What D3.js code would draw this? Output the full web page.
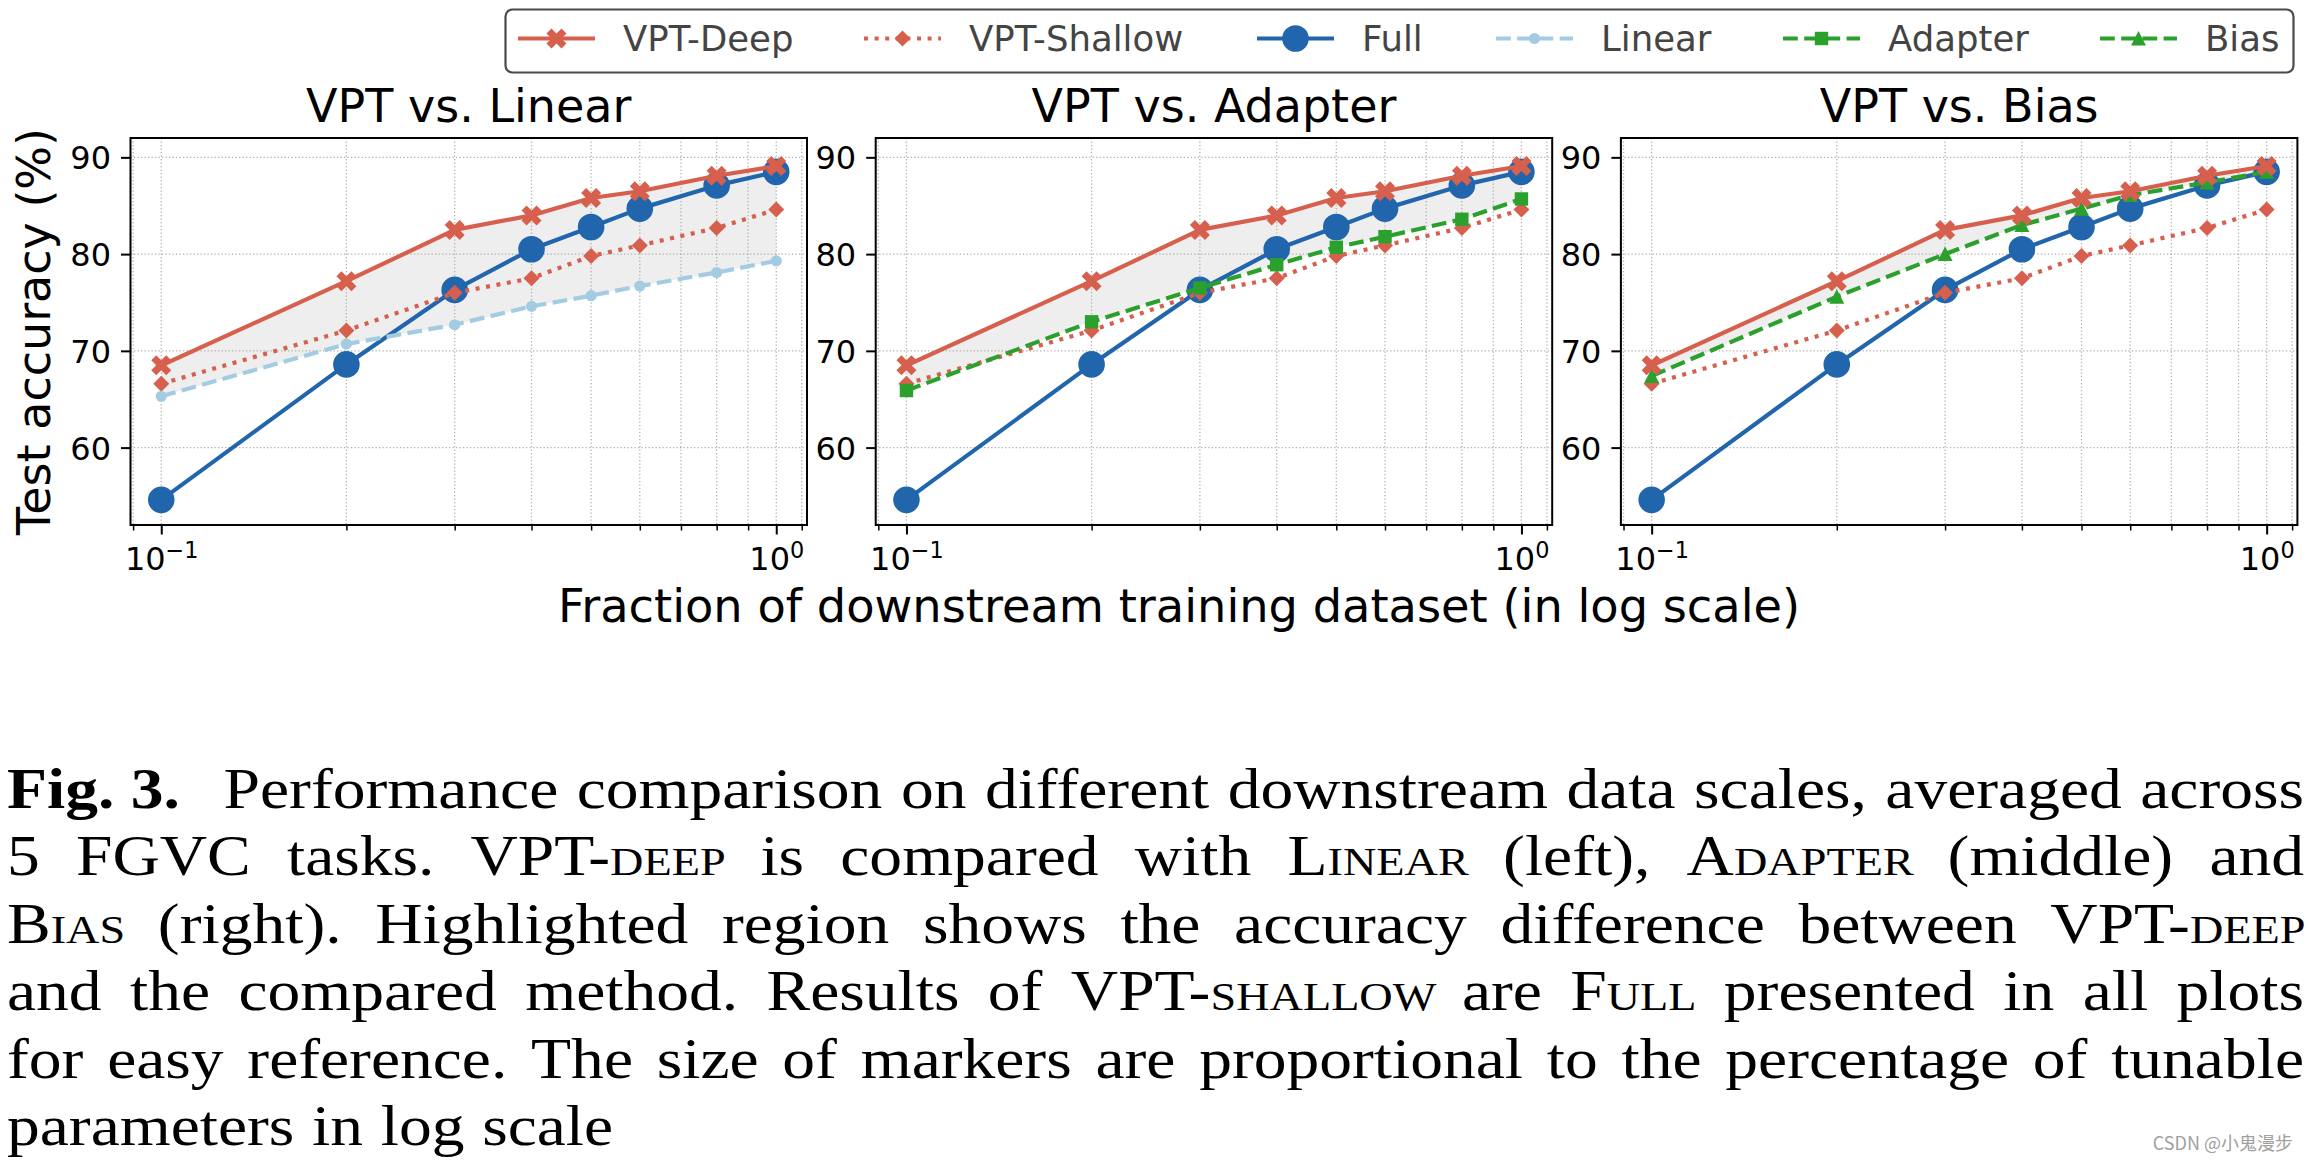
<!DOCTYPE html>
<html><head><meta charset="utf-8">
<script src="https://cdn.jsdelivr.net/npm/d3@7"></script>
<style>body{margin:0;background:#fff} svg{display:block}</style>
</head><body>
<svg id="chart" width="2310" height="1162"></svg>
<script>
// ---------------- data ----------------
const fractions = [0.1, 0.2, 0.3, 0.4, 0.5, 0.6, 0.8, 1.0];
const vptDeep    = [68.5, 77.2, 82.5, 84.0, 85.8, 86.5, 88.1, 89.1];
const vptShallow = [66.6, 72.1, 76.0, 77.5, 79.8, 80.9, 82.7, 84.6];
const full       = [54.6, 68.6, 76.3, 80.5, 82.8, 84.7, 87.1, 88.5];
const linear     = [65.3, 70.7, 72.7, 74.6, 75.7, 76.7, 78.1, 79.3];
const adapter    = [65.9, 73.0, 76.5, 78.9, 80.7, 81.8, 83.6, 85.7];
const bias       = [67.4, 75.6, 80.0, 83.0, 84.7, 86.1, 87.4, 88.5];

const yTicks = [60, 70, 80, 90];
const xMajorTicks = [0.1, 1];
const xMajorLabels = [["10", "\u22121"], ["10", "0"]];
const xMinorTicks = [0.09, 0.2, 0.3, 0.4, 0.5, 0.6, 0.7, 0.8, 0.9, 1.1];
const panelTitles = ["VPT vs. Linear", "VPT vs. Adapter", "VPT vs. Bias"];
const comparedKeys = ["linear", "adapter", "bias"];
const legendKeys = ["deep", "shallow", "full", "linear", "adapter", "bias"];
const legendLabels = ["VPT-Deep", "VPT-Shallow", "Full", "Linear", "Adapter", "Bias"];
const yLabel = "Test accuracy (%)";
const xLabel = "Fraction of downstream training dataset (in log scale)";
const captionLines = [
  "**Fig.\u00a03.** Performance comparison on different downstream data scales, averaged across",
  "5 FGVC tasks. VPT-{deep} is compared with {Linear} (left), {Adapter} (middle) and",
  "{Bias} (right). Highlighted region shows the accuracy difference between VPT-{deep}",
  "and the compared method. Results of VPT-{shallow} are {Full} presented in all plots",
  "for easy reference. The size of markers are proportional to the percentage of tunable",
  "parameters in log scale"
];
const watermark = "CSDN @\u5c0f\u9b3c\u6f2b\u6b65";

const seriesData = {deep: vptDeep, shallow: vptShallow, full: full, linear: linear, adapter: adapter, bias: bias};

// ---------------- styles ----------------
const RED = "#d6604d", BLUE = "#2166ac", LBLUE = "#a3cce2", GREEN = "#2ca02c";
const DASH = "14.8,6.4", DOT = "4,6.6";
const style = {
  deep:    {color: RED,   dash: null, marker: "X"},
  shallow: {color: RED,   dash: DOT,  marker: "D"},
  full:    {color: BLUE,  dash: null, marker: "o", r: 13.3},
  linear:  {color: LBLUE, dash: DASH, marker: "o", r: 5.6},
  adapter: {color: GREEN, dash: DASH, marker: "s"},
  bias:    {color: GREEN, dash: DASH, marker: "^"}
};
function markerPath(s) {
  switch (s.marker) {
    case "X": return {d: d3.symbol(d3.symbolCross, 250)(), rot: 45};
    case "D": return {d: d3.symbol(d3.symbolSquare, 128)(), rot: 45};
    case "o": return {d: d3.symbol(d3.symbolCircle, Math.PI * s.r * s.r)(), rot: 0};
    case "s": return {d: d3.symbol(d3.symbolSquare, 180)(), rot: 0};
    case "^": return {d: "M0,-7.5L7.5,7L-7.5,7Z", rot: 0};
  }
}

const W = 2310, H = 1162;
const svg = d3.select("#chart");
svg.append("rect").attr("width", W).attr("height", H).attr("fill", "#fff");
const SANS = "DejaVu Sans";

const panelW = 676.5, plotTop = 138, plotBottom = 525;
const panelLefts = [0, 1, 2].map(i => 130.5 + i * 745.2);
const LW = 4.2;

function drawSeries(g, key, x, y) {
  const s = style[key], vals = seriesData[key];
  const line = d3.line().x((d, i) => x(fractions[i])).y(d => y(d));
  g.append("path").attr("d", line(vals)).attr("fill", "none")
    .attr("stroke", s.color).attr("stroke-width", LW)
    .attr("stroke-dasharray", s.dash)
    .attr("stroke-linecap", s.dash ? "butt" : "square")
    .attr("stroke-linejoin", "round");
  const m = markerPath(s);
  g.selectAll(null).data(vals).enter().append("path")
    .attr("d", m.d).attr("fill", s.color)
    .attr("transform", (d, i) => `translate(${x(fractions[i])},${y(d)}) rotate(${m.rot})`);
}

panelLefts.forEach((left, pi) => {
  const x = d3.scaleLog().domain([Math.pow(10, -1.05), Math.pow(10, 0.05)]).range([left, left + panelW]);
  const y = d3.scaleLinear().domain([52, 92]).range([plotBottom, plotTop]);
  const g = svg.append("g");
  const cmp = comparedKeys[pi];

  // fill between VPT-deep and compared method
  const area = d3.area().x((d, i) => x(fractions[i]))
    .y0((d, i) => y(seriesData[cmp][i])).y1(d => y(d));
  g.append("path").attr("d", area(vptDeep)).attr("fill", "#eeeeee");

  // grid
  const grid = g.append("g").attr("stroke", "#b3b0a8").attr("stroke-width", 1.3).attr("stroke-dasharray", "1.3,2.2");
  xMajorTicks.concat(xMinorTicks).forEach(t => {
    grid.append("line").attr("x1", x(t)).attr("x2", x(t)).attr("y1", plotTop).attr("y2", plotBottom);
  });
  yTicks.forEach(t => {
    grid.append("line").attr("x1", left).attr("x2", left + panelW).attr("y1", y(t)).attr("y2", y(t));
  });

  // series
  const sg = g.append("g");
  ["full", "shallow", cmp, "deep"].forEach(k => drawSeries(sg, k, x, y));

  // spines
  g.append("rect").attr("x", left).attr("y", plotTop).attr("width", panelW).attr("height", plotBottom - plotTop)
    .attr("fill", "none").attr("stroke", "#000").attr("stroke-width", 2);

  // y axis
  const ya = g.append("g").attr("transform", `translate(${left},0)`)
    .call(d3.axisLeft(y).tickValues(yTicks).tickSize(9.5).tickPadding(10));
  ya.select(".domain").remove();
  ya.selectAll(".tick line").attr("stroke", "#000").attr("stroke-width", 2);
  ya.selectAll(".tick text").attr("font-family", SANS).attr("font-size", 32).attr("fill", "#000").attr("dy", "0.36em");

  // x axis minor
  const xm = g.append("g").attr("transform", `translate(0,${plotBottom})`)
    .call(d3.axisBottom(x).tickValues(xMinorTicks).tickSize(5.5).tickFormat(""));
  xm.select(".domain").remove();
  xm.selectAll(".tick line").attr("stroke", "#000").attr("stroke-width", 1.5);
  // x axis major
  const xa = g.append("g").attr("transform", `translate(0,${plotBottom})`)
    .call(d3.axisBottom(x).tickValues(xMajorTicks).tickSize(9.5).tickFormat(""));
  xa.select(".domain").remove();
  xa.selectAll(".tick line").attr("stroke", "#000").attr("stroke-width", 2);
  xa.selectAll(".tick text").each(function(d, i) {
    const t = d3.select(this).attr("y", 45).attr("dy", null)
      .attr("font-family", SANS).attr("font-size", 32).attr("fill", "#000").attr("text-anchor", "middle");
    t.append("tspan").text(xMajorLabels[i][0]);
    t.append("tspan").attr("font-size", 22.4).attr("dy", -12.5).text(xMajorLabels[i][1]);
  });

  // title
  svg.append("text").attr("x", left + panelW / 2).attr("y", 122).attr("text-anchor", "middle")
    .attr("font-family", SANS).attr("font-size", 46).attr("fill", "#000").text(panelTitles[pi]);
});

// axis labels
svg.append("text").attr("transform", `translate(50,${(plotTop + plotBottom) / 2}) rotate(-90)`)
  .attr("text-anchor", "middle").attr("font-family", SANS).attr("font-size", 46).attr("fill", "#000").text(yLabel);
svg.append("text").attr("x", 1179).attr("y", 622).attr("text-anchor", "middle")
  .attr("font-family", SANS).attr("font-size", 46.3).attr("fill", "#000").text(xLabel);

// legend
const lg = svg.append("g");
lg.append("rect").attr("x", 505.5).attr("y", 9.5).attr("width", 1788).attr("height", 63).attr("rx", 7)
  .attr("fill", "#fff").attr("stroke", "#4a4a4a").attr("stroke-width", 2.2);
const legendTextX = [623, 969, 1362, 1601, 1888, 2205];
const hy = 38.5;
legendKeys.forEach((k, i) => {
  const s = style[k];
  const tx = legendTextX[i];
  const x0 = tx - 105, x1 = tx - 28;
  lg.append("line").attr("x1", x0).attr("x2", x1).attr("y1", hy).attr("y2", hy)
    .attr("stroke", s.color).attr("stroke-width", LW).attr("stroke-dasharray", s.dash)
    .attr("stroke-linecap", "butt");
  const m = markerPath(s);
  lg.append("path").attr("d", m.d).attr("fill", s.color)
    .attr("transform", `translate(${(x0 + x1) / 2},${hy}) rotate(${m.rot})`);
  lg.append("text").attr("x", tx).attr("y", 51).attr("font-family", SANS).attr("font-size", 35.5)
    .attr("fill", "#444").text(legendLabels[i]);
});

// caption (justified lines)
const SERIF = "Liberation Serif";
const capSize = 56, capX0 = 7, capX1 = 2304, capY0 = 808, capDY = 67.4, kMax = 1.17, minGap = capSize * 0.27;
captionLines.forEach((line, li) => {
  const words = line.split(" ");
  const nodes = words.map(w => {
    const t = svg.append("text").attr("font-family", SERIF)
      .attr("font-size", capSize).attr("fill", "#000");
    w.split(/(\*\*[^*]+\*\*|\{[^}]+\})/).filter(s => s.length).forEach(seg => {
      const ts = t.append("tspan");
      if (seg.startsWith("**")) ts.attr("font-weight", "bold").text(seg.slice(2, -2));
      else if (seg.startsWith("{")) ts.style("font-variant", "small-caps").text(seg.slice(1, -1));
      else ts.text(seg);
    });
    return t;
  });
  const widths = nodes.map(n => n.node().getComputedTextLength());
  const total = d3.sum(widths);
  const last = li === captionLines.length - 1;
  const extra = li === 0 ? capSize * 0.45 : 0;
  const avail = capX1 - capX0 - extra;
  const k = last ? kMax : Math.min(kMax, (avail - (words.length - 1) * minGap) / total);
  const gap = last ? minGap * kMax : (avail - k * total) / (words.length - 1);
  let cx = capX0;
  const yb = capY0 + li * capDY;
  nodes.forEach((n, i) => {
    n.attr("transform", `translate(${cx},${yb}) scale(${k},1)`);
    cx += k * widths[i] + gap + (i === 0 ? extra : 0);
  });
});

svg.append("text").attr("x", 2293).attr("y", 1150).attr("text-anchor", "end")
  .attr("font-family", "Noto Sans CJK SC").attr("font-size", 18).attr("fill", "#a0a0a0").text(watermark);
</script>
</body></html>
